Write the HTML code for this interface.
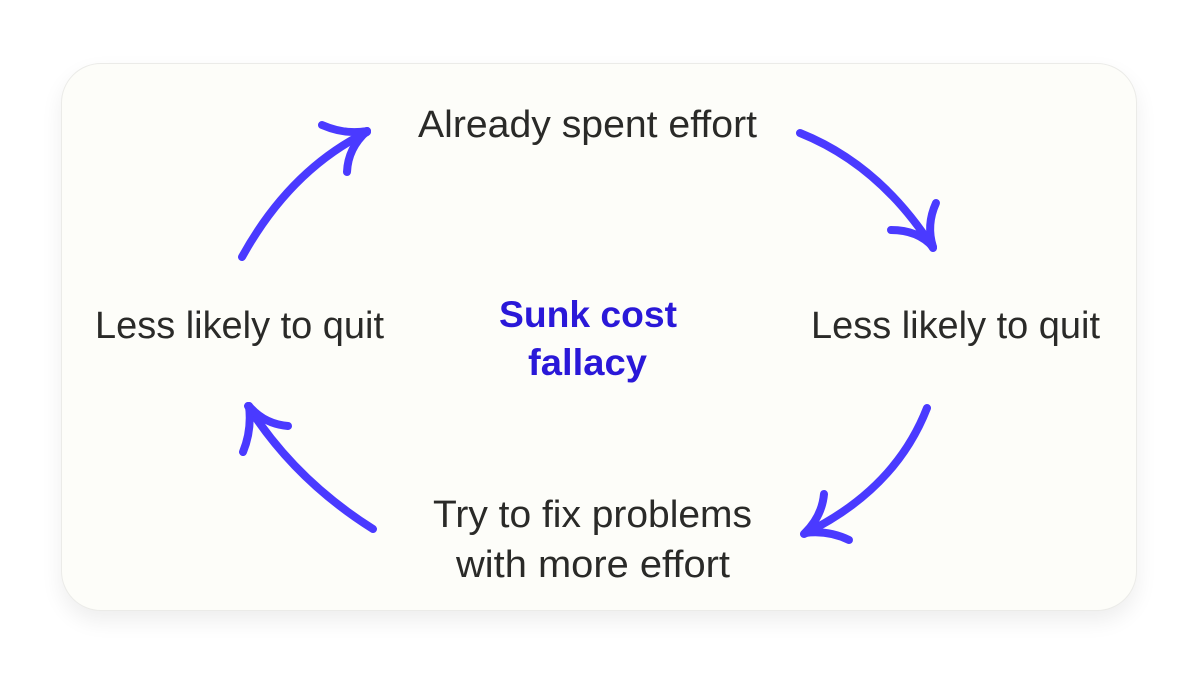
<!DOCTYPE html>
<html><head><meta charset="utf-8"><style>
html,body{margin:0;padding:0;background:#fff;}
body{width:1200px;height:675px;overflow:hidden;position:relative;}
.card{position:absolute;left:61px;top:63px;width:1076px;height:548px;border-radius:40px;background:#fdfdf9;border:1px solid #ebebe8;box-sizing:border-box;box-shadow:0 10px 22px rgba(0,0,0,0.07);}
svg{position:absolute;left:0;top:0;}
</style></head><body>
<div class="card"></div>
<svg width="1200" height="675" viewBox="0 0 1200 675" xmlns="http://www.w3.org/2000/svg">
<g fill="none" stroke="#4a3aff" stroke-width="8" stroke-linecap="round" stroke-linejoin="round">
<path d="M242 257 Q290 170 367 132"/>
<path d="M322 125 Q345 135 367 131"/>
<path d="M347 172 Q348 148 367 131"/>
<path d="M800 133 Q880 165 933 248"/>
<path d="M891 230 Q918 230 933 247"/>
<path d="M936 203 Q926 225 933 247"/>
<path d="M927 408 Q895 490 804 534"/>
<path d="M824 494 Q822 516 805 533"/>
<path d="M849 540 Q828 530 805 533"/>
<path d="M373 529 Q295 480 248 406"/>
<path d="M243 452 Q252 430 249 406"/>
<path d="M288 426 Q264 424 249 406"/>
</g>
<g font-family="Liberation Sans, sans-serif" font-size="38" fill="#2a2a28">
<text x="418" y="137" textLength="339" lengthAdjust="spacingAndGlyphs">Already spent effort</text>
<text x="95" y="338" textLength="289" lengthAdjust="spacingAndGlyphs">Less likely to quit</text>
<text x="811" y="338" textLength="289" lengthAdjust="spacingAndGlyphs">Less likely to quit</text>
<text x="433" y="527" textLength="319" lengthAdjust="spacingAndGlyphs">Try to fix problems</text>
<text x="456" y="577" textLength="274" lengthAdjust="spacingAndGlyphs">with more effort</text>
</g>
<g font-family="Liberation Sans, sans-serif" font-size="37" font-weight="bold" fill="#2a18d8">
<text x="499" y="327" textLength="178" lengthAdjust="spacingAndGlyphs">Sunk cost</text>
<text x="528" y="375" textLength="119" lengthAdjust="spacingAndGlyphs">fallacy</text>
</g>
</svg>
</body></html>
